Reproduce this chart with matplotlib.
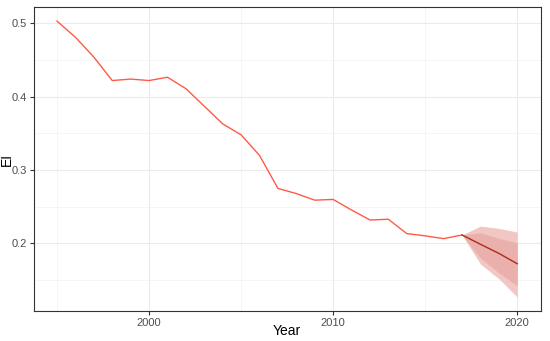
import numpy as np
import matplotlib
matplotlib.use("Agg")
import matplotlib.pyplot as plt
from matplotlib.ticker import MultipleLocator

plt.rcParams["font.family"] = ["Liberation Sans", "DejaVu Sans"]

# observed series
years = list(range(1995, 2018))
ei = [0.503, 0.481, 0.454, 0.422, 0.424, 0.422, 0.4265, 0.411, 0.387, 0.363,
      0.348, 0.320, 0.275, 0.268, 0.259, 0.260, 0.2456, 0.232, 0.233, 0.2134,
      0.2104, 0.2066, 0.2116]

# forecast (starts at last observation)
fc_years = [2017, 2018, 2019, 2020]
fc_mean = [0.2116, 0.1989, 0.1865, 0.1724]
lo95 = [0.2116, 0.172, 0.152, 0.127]
hi95 = [0.2116, 0.2237, 0.2206, 0.2155]
lo80 = [0.2116, 0.180, 0.160, 0.1424]
hi80 = [0.2116, 0.2146, 0.207, 0.2008]

fig = plt.figure(figsize=(5.5, 3.41), dpi=100)
ax = fig.add_axes([0.0618, 0.088, 0.9212, 0.891])

ax.fill_between(fc_years, lo95, hi95, color="#f2c6c3", lw=0, zorder=2)
ax.fill_between(fc_years, lo80, hi80, color="#e9b0ac", lw=0, zorder=3)
ax.plot(years, ei, color="#ff5a47", lw=1.0, zorder=4)
ax.plot(fc_years, fc_mean, color="#b22a1e", lw=1.0, zorder=5)

ax.set_xlim(1993.75, 2021.27)
ax.set_ylim(0.108, 0.522)
ax.xaxis.set_major_locator(MultipleLocator(10))
ax.xaxis.set_minor_locator(MultipleLocator(5))
ax.yaxis.set_major_locator(MultipleLocator(0.1))
ax.yaxis.set_minor_locator(MultipleLocator(0.05))
ax.set_yticks([0.2, 0.3, 0.4, 0.5])
ax.set_yticklabels(["0.2", "0.3", "0.4", "0.5"])

ax.grid(which="major", color="#ebebeb", lw=0.8, zorder=0)
ax.grid(which="minor", color="#f2f2f2", lw=0.5, zorder=0)
ax.set_axisbelow(True)
ax.tick_params(which="major", length=3, width=0.8, color="#333333",
               labelsize=8, labelcolor="#4d4d4d", pad=2)
ax.tick_params(which="minor", length=0)
for s in ax.spines.values():
    s.set_color("#333333")
    s.set_linewidth(0.8)

fig.text(287 / 550, 1 - 331 / 341, "Year", fontsize=10, ha="center", va="center")
fig.text(7 / 550, 1 - 159 / 341, "EI", fontsize=10, ha="center", va="center",
         rotation=90)

fig.savefig("out.png", dpi=100)
